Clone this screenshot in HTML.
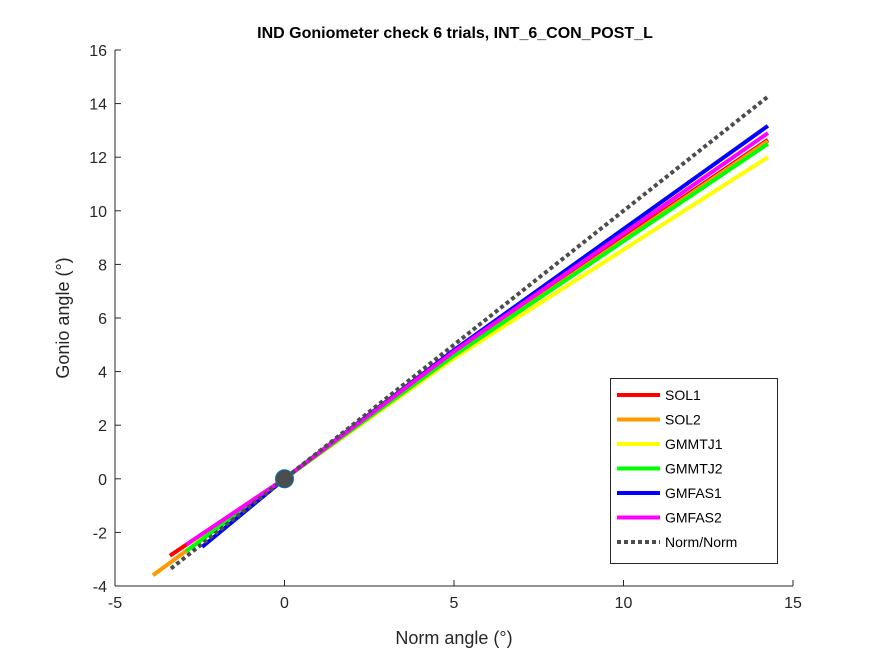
<!DOCTYPE html>
<html><head><meta charset="utf-8"><style>
body{margin:0;background:#fff;}
text{font-family:"Liberation Sans",sans-serif;}
</style></head><body>
<svg id="c" width="875" height="656">
<rect width="875" height="656" fill="#fff"/>
</svg>
<script>
const seriesNames=["SOL1","SOL2","GMMTJ1","GMMTJ2","GMFAS1","GMFAS2"];
const seriesColors=["#ff0000","#ff9900","#ffff00","#00ff00","#0000ff","#ff00ff"];
const seriesX=[[-3.38,0,5,14.26],[-3.88,0,5,14.26],[-2.7,0,5,14.26],[-2.9,0,5,14.26],[-2.43,0,5,14.26],[-2.9,0,5,14.26]];
const seriesY=[[-2.87,0,4.7,12.65],[-3.6,0,4.6,12.6],[-2.4,0,4.5,12.0],[-2.7,0,4.6,12.5],[-2.54,0,4.8,13.17],[-2.46,0,4.75,12.9]];
const normX=[-3.35,14.26];
const normY=[-3.35,14.26];
const xTicks=[-5,0,5,10,15];
const yTicks=[-4,-2,0,2,4,6,8,10,12,14,16];
const NS="http://www.w3.org/2000/svg";
const svg=document.getElementById('c');
const X0=115,X1=793,XMIN=-5,XMAX=15,Y0=586,Y1=50,YMIN=-4,YMAX=16;
function sx(v){return X0+(v-XMIN)/(XMAX-XMIN)*(X1-X0);}
function sy(v){return Y0-(v-YMIN)/(YMAX-YMIN)*(Y0-Y1);}
function mk(t,a,p){const e=document.createElementNS(NS,t);for(const k in a)e.setAttribute(k,a[k]);(p||svg).appendChild(e);return e;}
let e;
e=mk('line',{x1:X0,y1:Y0,x2:X1,y2:Y0,stroke:'#262626','stroke-width':1});


e=mk('line',{x1:X0,y1:Y0,x2:X0,y2:Y1,stroke:'#262626','stroke-width':1});


xTicks.forEach(v=>{
 e=mk('line',{x1:sx(v),y1:Y0,x2:sx(v),y2:Y0-6,stroke:'#262626'});
 
 
 e=mk('text',{x:sx(v),y:Y0+22,'text-anchor':'middle','font-size':16,fill:'#262626'});e.textContent=v;
 
 
});
yTicks.forEach(v=>{
 e=mk('line',{x1:X0,y1:sy(v),x2:X0+6,y2:sy(v),stroke:'#262626'});
 
 
 e=mk('text',{x:X0-8,y:sy(v)+6,'text-anchor':'end','font-size':16,fill:'#262626'});e.textContent=v;
 
 
});
seriesNames.forEach((n,i)=>{
 const pts=seriesX[i].map((x,j)=>sx(x)+','+sy(seriesY[i][j])).join(' ');
 e=mk('polyline',{points:pts,fill:'none',stroke:seriesColors[i],'stroke-width':4});
 
 
});
e=mk('polyline',{points:normX.map((x,j)=>sx(x)+','+sy(normY[j])).join(' '),fill:'none',stroke:'#4d4d4d','stroke-width':4,'stroke-dasharray':'4 3'});


e=mk('circle',{cx:sx(0),cy:sy(0),r:9,fill:'#4d4d4d',stroke:'#0072bd','stroke-width':1});


e=mk('text',{x:455,y:38,'text-anchor':'middle','font-size':16,'font-weight':'bold',fill:'#000'});e.textContent='IND Goniometer check 6 trials, INT_6_CON_POST_L';


e=mk('text',{x:454,y:644,'text-anchor':'middle','font-size':18,fill:'#262626'});e.textContent='Norm angle (°)';


e=mk('text',{x:0,y:0,'text-anchor':'middle','font-size':18,fill:'#262626',transform:'translate(69,318) rotate(-90)'});e.textContent='Gonio angle (°)';


const lg=mk('g',{});


mk('rect',{x:610.5,y:378.5,width:167,height:185,fill:'#fff',stroke:'#262626'},lg);
const names=seriesNames.concat(['Norm/Norm']);
const cols=seriesColors.concat(['#4d4d4d']);
names.forEach((n,i)=>{
 const y=395+i*24.5;
 const g=mk('g',{},lg);
 
 
 const a={x1:617,y1:y,x2:660,y2:y,stroke:cols[i],'stroke-width':4};
 if(i==6)a['stroke-dasharray']='4 3';
 mk('line',a,g);
 const t=mk('text',{x:665,y:y+5,'font-size':14,fill:'#000'},g);t.textContent=n;
});
</script>
</body></html>
